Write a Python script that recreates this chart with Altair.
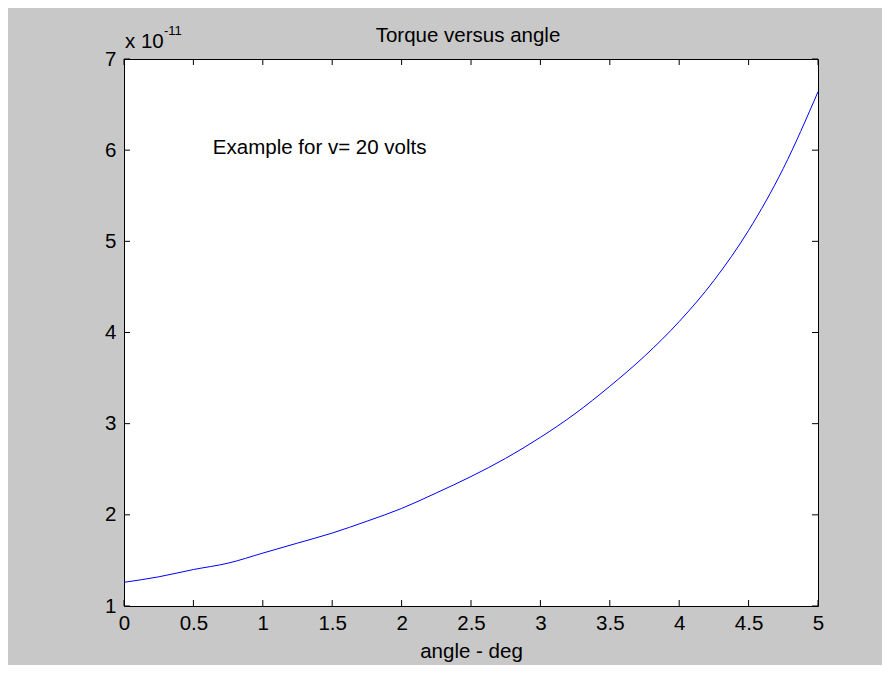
import altair as alt
import pandas as pd

# Data (torque in units of 1e-11)
angle = [0.0, 0.25, 0.5, 0.75, 1.0, 1.25, 1.5, 1.75, 2.0, 2.25, 2.5,
         2.75, 3.0, 3.25, 3.5, 3.75, 4.0, 4.25, 4.5, 4.75, 5.0]
torque = [1.26, 1.32, 1.40, 1.47, 1.58, 1.69, 1.80, 1.93, 2.07, 2.24, 2.42,
          2.62, 2.85, 3.11, 3.41, 3.74, 4.12, 4.57, 5.12, 5.80, 6.64]
x_ticks = [0, 0.5, 1, 1.5, 2, 2.5, 3, 3.5, 4, 4.5, 5]
y_ticks = [1, 2, 3, 4, 5, 6, 7]
title_text = ["Torque versus angle"]
note_text = ["Example for v= 20 volts"]
exp_base = ["x 10"]
exp_power = ["-11"]

W, H = 694, 547
FONT = "Liberation Sans"
FS = 20.5
TICK = 6

df = pd.DataFrame({"angle": angle, "torque": torque})
xt = pd.DataFrame({"angle": x_ticks})
yt = pd.DataFrame({"torque": y_ticks})

xscale = alt.Scale(domain=[0, 5], nice=False, zero=False)
yscale = alt.Scale(domain=[1, 7], nice=False, zero=False)

xaxis = alt.Axis(values=x_ticks, format="~g", title="angle - deg",
                 grid=False, ticks=False, domain=False,
                 labelFont=FONT, labelFontSize=FS, labelColor="black",
                 labelPadding=7, titleFont=FONT, titleFontSize=FS,
                 titleFontWeight="normal", titleColor="black",
                 titlePadding=8, labelFlush=False)
yaxis = alt.Axis(values=y_ticks, format="~g", title=None,
                 grid=False, ticks=False, domain=False,
                 labelFont=FONT, labelFontSize=FS, labelColor="black",
                 labelPadding=8, labelFlush=False)

line = alt.Chart(df).mark_line(
    color="#0000ff", strokeWidth=1, interpolate="monotone"
).encode(
    x=alt.X("angle:Q", scale=xscale, axis=xaxis),
    y=alt.Y("torque:Q", scale=yscale, axis=yaxis),
)

bottom_ticks = alt.Chart(xt).mark_rule(color="black", strokeWidth=1).encode(
    x=alt.X("angle:Q", scale=xscale, axis=xaxis),
    y=alt.value(H), y2=alt.value(H - TICK))
top_ticks = alt.Chart(xt).mark_rule(color="black", strokeWidth=1).encode(
    x=alt.X("angle:Q", scale=xscale, axis=xaxis),
    y=alt.value(0), y2=alt.value(TICK))
left_ticks = alt.Chart(yt).mark_rule(color="black", strokeWidth=1).encode(
    y=alt.Y("torque:Q", scale=yscale, axis=yaxis),
    x=alt.value(0), x2=alt.value(TICK))
right_ticks = alt.Chart(yt).mark_rule(color="black", strokeWidth=1).encode(
    y=alt.Y("torque:Q", scale=yscale, axis=yaxis),
    x=alt.value(W), x2=alt.value(W - TICK))

title = alt.Chart(pd.DataFrame({"s": title_text})).mark_text(
    align="center", baseline="alphabetic", font=FONT, fontSize=FS, color="black"
).encode(x=alt.value(W / 2 - 3), y=alt.value(-17), text="s:N")

note = alt.Chart(pd.DataFrame({"s": note_text})).mark_text(
    align="left", baseline="middle", font=FONT, fontSize=FS, color="black"
).encode(x=alt.datum(0.64), y=alt.datum(6.02), text="s:N")

exp1 = alt.Chart(pd.DataFrame({"s": exp_base})).mark_text(
    align="left", baseline="alphabetic", font=FONT, fontSize=FS, color="black"
).encode(x=alt.value(1), y=alt.value(-11), text="s:N")

exp2 = alt.Chart(pd.DataFrame({"s": exp_power})).mark_text(
    align="left", baseline="alphabetic", font=FONT, fontSize=13, color="black"
).encode(x=alt.value(40), y=alt.value(-24), text="s:N")

chart = alt.layer(
    line, bottom_ticks, top_ticks, left_ticks, right_ticks,
    title, note, exp1, exp2
).properties(
    width=W, height=H,
    background="#c8c8c8",
    autosize=alt.AutoSizeParams(type="none"),
    padding={"left": 116, "top": 51, "right": 64, "bottom": 59},
).configure_view(
    fill="white", stroke="black", strokeWidth=1
)

chart.save("out.html", embed_options={"renderer": "svg", "actions": False})
